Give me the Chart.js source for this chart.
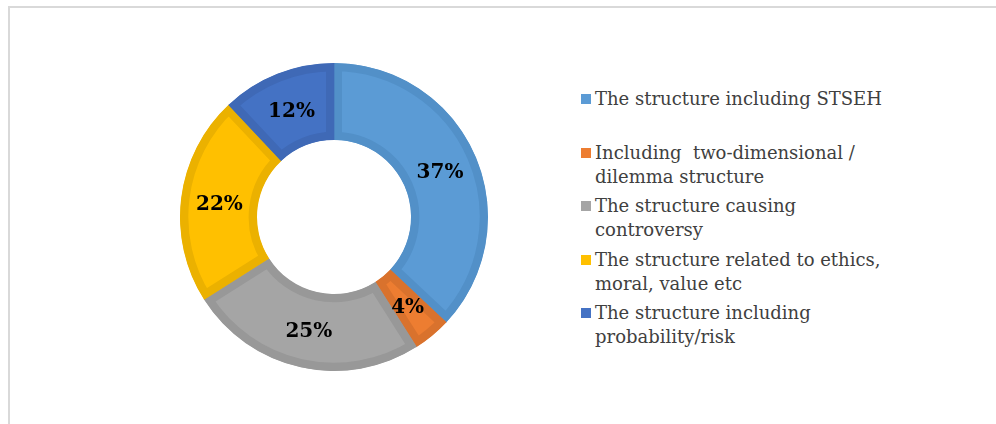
<!DOCTYPE html>
<html>
<head>
<meta charset="utf-8">
<script src="https://cdn.jsdelivr.net/npm/chart.js@4.4.1/dist/chart.umd.min.js"></script>
<style>
    html, body { margin: 0; padding: 0; background: #fff; }
    body { width: 996px; height: 424px; position: relative; overflow: hidden; }
    .frame { position: absolute; left: 8px; top: 6px; width: 1000px; height: 430px; border-left: 2px solid #d9d9d9; border-top: 2px solid #d9d9d9; }
    .chart-box { position: absolute; left: 180px; top: 63px; width: 308px; height: 308px; }
    .legend { position: absolute; left: 581px; top: 87px; font-family: "DejaVu Serif", serif; font-size: 18px; color: #404040; }
    .legend-item { display: flex; align-items: flex-start; min-height: 48px; margin-bottom: 5.5px; line-height: 24px; }
    .legend-swatch { width: 10px; height: 10px; margin-top: 7px; margin-right: 4px; flex: none; }
    .legend-text { white-space: pre; }
</style>
</head>
<body>
<div class="frame"></div>
<div class="chart-box"><canvas id="structureChart"></canvas></div>
<div class="legend" id="structureLegend"></div>

<script>
// Data
const categories = [
    'The structure including STSEH',
    'Including  two-dimensional /<br>dilemma structure',
    'The structure causing<br>controversy',
    'The structure related to ethics,<br>moral, value etc',
    'The structure including<br>probability/risk'
];
const shares = [37, 4, 25, 22, 12];
const fillColors = ['#5b9bd5', '#ed7d31', '#a5a5a5', '#ffc000', '#4472c4'];
const edgeColors = ['#5290c8', '#d9722d', '#989898', '#ebb100', '#3f69b6'];

// Legend (HTML so the two-line entries wrap like the original)
const legend = document.getElementById('structureLegend');
legend.innerHTML = categories.map((c, i) =>
    `<div class="legend-item"><span class="legend-swatch" style="background:${fillColors[i]}"></span><span class="legend-text">${c}</span></div>`
).join('');

// Percent labels drawn at each slice's centroid
const percentLabels = {
    id: 'percentLabels',
    afterDatasetsDraw(chart) {
        const ctx = chart.ctx;
        const meta = chart.getDatasetMeta(0);
        ctx.save();
        ctx.font = 'bold 20px "DejaVu Serif", serif';
        ctx.fillStyle = '#000';
        ctx.textAlign = 'center';
        ctx.textBaseline = 'middle';
        meta.data.forEach((arc, i) => {
            const pos = arc.tooltipPosition();
            ctx.fillText(shares[i] + '%', pos.x, pos.y + 2);
        });
        ctx.restore();
    }
};

new Chart(document.getElementById('structureChart'), {
    type: 'doughnut',
    data: {
        labels: categories,
        datasets: [{
            data: shares,
            backgroundColor: fillColors,
            borderColor: edgeColors,
            borderWidth: 8,
            borderAlign: 'inner',
            borderJoinStyle: 'miter',
            hoverOffset: 0
        }]
    },
    options: {
        responsive: true,
        maintainAspectRatio: false,
        animation: false,
        cutout: '50%',
        layout: { padding: 0 },
        plugins: {
            legend: { display: false },
            tooltip: { enabled: false }
        }
    },
    plugins: [percentLabels]
});
</script>
</body>
</html>
